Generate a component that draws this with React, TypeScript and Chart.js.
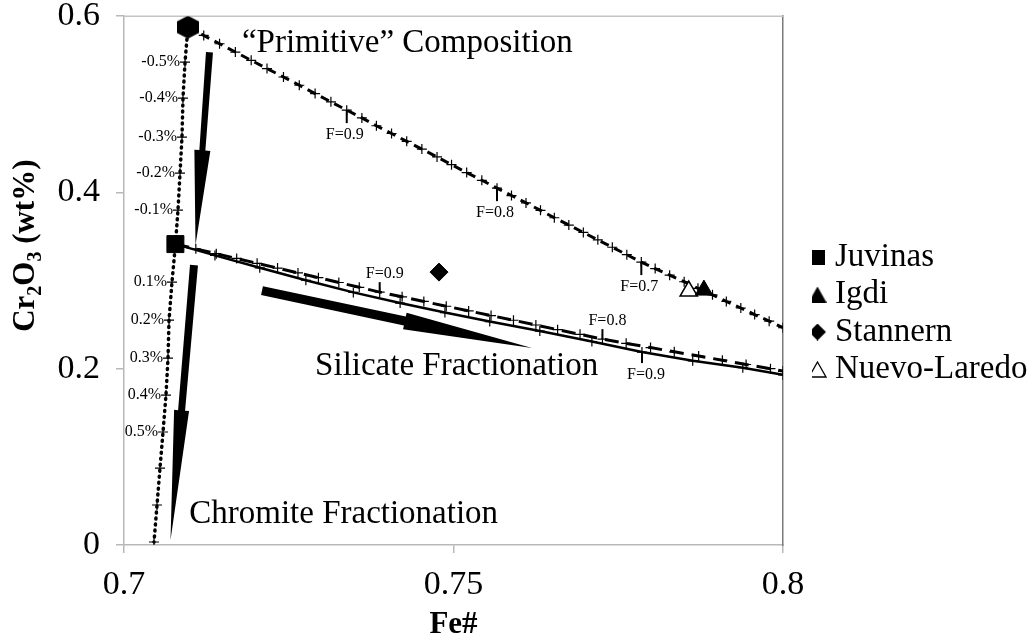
import React, { useEffect, useRef } from 'react';
import { Chart, registerables } from 'chart.js';

Chart.register(...registerables);

const FONT = "'Liberation Serif', 'Times New Roman', Times, serif";

// ---- axes ----
const xTickValues = [0.7, 0.75, 0.8];
const xTickLabels = ['0.7', '0.75', '0.8'];
const yTickValues = [0, 0.2, 0.4, 0.6];
const yTickLabels = ['0', '0.2', '0.4', '0.6'];
const xTitle = 'Fe#';
const yTitleParts = ['Cr', '2', 'O', '3', ' (wt%)'];
const yTitleIsSub = [false, true, false, true, false];

// ---- meteorite samples ----
const sampleNames = ['Juvinas', 'Igdi', 'Stannern', 'Nuevo-Laredo'];
const juvinasFe = [0.7078];
const juvinasCr = [0.3414];
const igdiFe = [0.7880];
const igdiCr = [0.2892];
const stannernFe = [0.7478];
const stannernCr = [0.3096];
const nuevoLaredoFe = [0.7857];
const nuevoLaredoCr = [0.2881];

// ---- "primitive" composition ----
const primitiveFe = [0.7097];
const primitiveCr = [0.5875];

// ---- silicate fractionation of the primitive melt (marks every F = 0.01) ----
const primSilFe = [
  0.7097, 0.7121, 0.7145, 0.7169, 0.7193, 0.7217, 0.7242, 0.7266, 0.7290, 0.7314, 0.7338,
  0.7361, 0.7383, 0.7406, 0.7429, 0.7452, 0.7475, 0.7497, 0.7520, 0.7543, 0.7566,
  0.7588, 0.7610, 0.7632, 0.7653, 0.7675, 0.7697, 0.7719, 0.7741, 0.7763, 0.7785,
  0.7806, 0.7828, 0.7850, 0.7871, 0.7893, 0.7914, 0.7936, 0.7957, 0.7979, 0.8000,
];
const primSilCr = [
  0.5875, 0.5781, 0.5687, 0.5593, 0.5499, 0.5405, 0.5310, 0.5216, 0.5122, 0.5028, 0.4934,
  0.4846, 0.4757, 0.4669, 0.4580, 0.4492, 0.4403, 0.4315, 0.4226, 0.4138, 0.4049,
  0.3965, 0.3881, 0.3797, 0.3713, 0.3630, 0.3546, 0.3462, 0.3378, 0.3294, 0.3210,
  0.3136, 0.3061, 0.2987, 0.2912, 0.2838, 0.2763, 0.2689, 0.2614, 0.2540, 0.2465,
];
const primSilMarkIdx = [10, 20, 30];
const primSilMarkText = ['F=0.9', 'F=0.8', 'F=0.7'];

// ---- silicate fractionation from Juvinas, dashed model ----
const juvDashFe = [
  0.7078, 0.7109, 0.7140, 0.7171, 0.7202, 0.7233, 0.7264, 0.7295, 0.7326, 0.7357, 0.7388,
  0.7422, 0.7455, 0.7489, 0.7523, 0.7557, 0.7591, 0.7625, 0.7658, 0.7692, 0.7726,
  0.7762, 0.7799, 0.7835, 0.7872, 0.7908, 0.7944, 0.7981, 0.8000,
];
const juvDashCr = [
  0.3414, 0.3360, 0.3305, 0.3251, 0.3196, 0.3142, 0.3087, 0.3033, 0.2978, 0.2924, 0.2869,
  0.2816, 0.2763, 0.2709, 0.2656, 0.2603, 0.2550, 0.2496, 0.2443, 0.2390, 0.2336,
  0.2288, 0.2240, 0.2192, 0.2144, 0.2096, 0.2048, 0.2000, 0.1973,
];
const juvDashMarkIdx = [10, 20];
const juvDashMarkText = ['F=0.9', 'F=0.8'];

// ---- silicate fractionation from Juvinas, solid model ----
const juvSolidFe = [0.7078, 0.7138, 0.7206, 0.7276, 0.7348, 0.7419, 0.7487, 0.7555, 0.7631, 0.7710, 0.7786, 0.7863, 0.7939, 0.8000];
const juvSolidCr = [0.3414, 0.3286, 0.3145, 0.3004, 0.2866, 0.2745, 0.2637, 0.2535, 0.2427, 0.2309, 0.2189, 0.2090, 0.2012, 0.1930];
const juvSolidMarkIdx = [10];
const juvSolidMarkText = ['F=0.9'];

// ---- chromite fractionation (dotted) ----
const chromFe = [0.7097, 0.70926, 0.70895, 0.70880, 0.70850, 0.70819, 0.70781, 0.70728, 0.70683, 0.70668, 0.70637, 0.70592, 0.70546, 0.70501, 0.70455];
const chromCr = [0.5875, 0.5478, 0.5070, 0.4627, 0.4219, 0.3799, 0.3414, 0.2983, 0.2552, 0.2121, 0.1701, 0.1282, 0.0873, 0.0454, 0.0034];
const chromLabels = ['', '-0.5%', '-0.4%', '-0.3%', '-0.2%', '-0.1%', '', '0.1%', '0.2%', '0.3%', '0.4%', '0.5%', '', '', ''];

// ---- annotations ----
const noteTexts = ['\u201CPrimitive\u201D Composition', 'Silicate Fractionation', 'Chromite Fractionation'];
const noteFe = [0.7179, 0.7290, 0.7099];
const noteCr = [0.5591, 0.1928, 0.0250];
const arrowFromFe = [0.71297, 0.71062, 0.72094];
const arrowFromCr = [0.5592, 0.3176, 0.2887];
const arrowToFe = [0.71085, 0.70706, 0.76191];
const arrowToCr = [0.3403, 0.0057, 0.2234];

// styles (px)
const ARROW_STYLE = [
  { tail: 7, neck: 6, head: 16, headLen: 95 },
  { tail: 8, neck: 7, head: 15, headLen: 130 },
  { tail: 9, neck: 9, head: 17, headLen: 130 },
];

const pts = (xs: number[], ys: number[]) => xs.map((x, i) => ({ x, y: ys[i] }));

function makeIcon(w: number, h: number, draw: (g: CanvasRenderingContext2D) => void): HTMLCanvasElement {
  const c = document.createElement('canvas');
  c.width = w;
  c.height = h;
  const g = c.getContext('2d')!;
  g.fillStyle = '#000';
  g.strokeStyle = '#000';
  draw(g);
  return c;
}

function makeHexagon(w: number, h: number) {
  return makeIcon(w, h, (g) => {
    g.beginPath();
    g.moveTo(w / 2, 0);
    g.lineTo(w, h * 0.25);
    g.lineTo(w, h * 0.75);
    g.lineTo(w / 2, h);
    g.lineTo(0, h * 0.75);
    g.lineTo(0, h * 0.25);
    g.closePath();
    g.fill();
  });
}

function makeLegendIcons() {
  const square = makeIcon(15, 15, (g) => g.fillRect(0, 0, 15, 15));
  const tri = makeIcon(18, 16, (g) => {
    g.beginPath(); g.moveTo(9, 0); g.lineTo(18, 16); g.lineTo(0, 16); g.closePath(); g.fill();
  });
  const diamond = makeIcon(17, 17, (g) => {
    g.beginPath(); g.moveTo(8.5, 0); g.lineTo(17, 8.5); g.lineTo(8.5, 17); g.lineTo(0, 8.5); g.closePath(); g.fill();
  });
  const openTri = makeIcon(19, 17, (g) => {
    g.lineWidth = 1.3;
    g.fillStyle = '#fff';
    g.beginPath(); g.moveTo(9.5, 1); g.lineTo(18, 16); g.lineTo(1, 16); g.closePath(); g.fill(); g.stroke();
  });
  return [square, tri, diamond, openTri];
}

function drawArrow(ctx: CanvasRenderingContext2D, x1: number, y1: number, x2: number, y2: number, s: any) {
  const dx = x2 - x1, dy = y2 - y1;
  const L = Math.hypot(dx, dy);
  const ux = dx / L, uy = dy / L;
  const nx = -uy, ny = ux;
  const bx = x2 - ux * s.headLen, by = y2 - uy * s.headLen;
  ctx.beginPath();
  ctx.moveTo(x1 + (nx * s.tail) / 2, y1 + (ny * s.tail) / 2);
  ctx.lineTo(bx + (nx * s.neck) / 2, by + (ny * s.neck) / 2);
  ctx.lineTo(bx + (nx * s.head) / 2, by + (ny * s.head) / 2);
  ctx.lineTo(x2, y2);
  ctx.lineTo(bx - (nx * s.head) / 2, by - (ny * s.head) / 2);
  ctx.lineTo(bx - (nx * s.neck) / 2, by - (ny * s.neck) / 2);
  ctx.lineTo(x1 - (nx * s.tail) / 2, y1 - (ny * s.tail) / 2);
  ctx.closePath();
  ctx.fill();
}

const annotationPlugin = {
  id: 'vestaAnnotations',
  beforeDatasetsDraw(chart: any) {
    const { ctx, chartArea } = chart;
    const xs = chart.scales.x;
    const ys = chart.scales.y;
    const px = (v: number) => xs.getPixelForValue(v);
    const py = (v: number) => ys.getPixelForValue(v);
    ctx.save();
    // top frame line
    ctx.strokeStyle = '#c4c4c4';
    ctx.lineWidth = 1.5;
    ctx.beginPath();
    ctx.moveTo(chartArea.left, chartArea.top);
    ctx.lineTo(chartArea.right, chartArea.top);
    ctx.stroke();

    // arrows
    ctx.fillStyle = '#000';
    for (let i = 0; i < arrowFromFe.length; i++) {
      drawArrow(ctx, px(arrowFromFe[i]), py(arrowFromCr[i]), px(arrowToFe[i]), py(arrowToCr[i]), ARROW_STYLE[i]);
    }

    // big notes
    ctx.font = `33px ${FONT}`;
    ctx.textAlign = 'left';
    ctx.textBaseline = 'alphabetic';
    for (let i = 0; i < noteTexts.length; i++) {
      ctx.fillText(noteTexts[i], px(noteFe[i]), py(noteCr[i]));
    }

    // F marks
    ctx.font = `16px ${FONT}`;
    ctx.textAlign = 'center';
    ctx.textBaseline = 'middle';
    ctx.strokeStyle = '#000';
    ctx.lineWidth = 2;
    const marks = [
      { fe: primSilFe, cr: primSilCr, idx: primSilMarkIdx, txt: primSilMarkText, dir: 1, len: 13, off: 25, dx: -2 },
      { fe: juvDashFe, cr: juvDashCr, idx: juvDashMarkIdx, txt: juvDashMarkText, dir: -1, len: 10, off: 18, dx: 5 },
      { fe: juvSolidFe, cr: juvSolidCr, idx: juvSolidMarkIdx, txt: juvSolidMarkText, dir: 1, len: 11, off: 23, dx: 4 },
    ];
    for (const m of marks) {
      m.idx.forEach((k, j) => {
        const X = px(m.fe[k]);
        const Y = py(m.cr[k]);
        ctx.beginPath();
        ctx.moveTo(X, Y);
        ctx.lineTo(X, Y + m.dir * m.len);
        ctx.stroke();
        ctx.fillText(m.txt[j], X + m.dx, Y + m.dir * m.off);
      });
    }

    // chromite percentage labels
    ctx.textAlign = 'right';
    chromLabels.forEach((t, i) => {
      if (!t) return;
      ctx.fillText(t, px(chromFe[i]) - 5, py(chromCr[i]));
    });
    ctx.restore();
  },
  afterDraw(chart: any) {
    const { ctx, chartArea } = chart;
    ctx.save();
    const big = `bold 31px ${FONT}`;
    const small = `bold 20px ${FONT}`;
    let total = 0;
    const widths = yTitleParts.map((t, i) => {
      ctx.font = yTitleIsSub[i] ? small : big;
      const w = ctx.measureText(t).width;
      total += w;
      return w;
    });
    const cy = chartArea.top + 0.434 * (chartArea.bottom - chartArea.top);
    ctx.translate(34, cy);
    ctx.rotate(-Math.PI / 2);
    ctx.fillStyle = '#000';
    ctx.textAlign = 'left';
    ctx.textBaseline = 'alphabetic';
    let x = -total / 2;
    yTitleParts.forEach((t, i) => {
      ctx.font = yTitleIsSub[i] ? small : big;
      ctx.fillText(t, x, yTitleIsSub[i] ? 7 : 0);
      x += widths[i];
    });
    ctx.restore();
  },
};

export default function App() {
  const ref = useRef<HTMLCanvasElement | null>(null);
  useEffect(() => {
    if (!ref.current) return;
    const hex = makeHexagon(22, 23);
    const legendIcons = makeLegendIcons();
    const crossPts = { pointStyle: 'cross', pointBorderColor: '#000', pointBorderWidth: 1.2, pointRadius: 5 };
    const chart = new Chart(ref.current, {
      type: 'scatter',
      data: {
        datasets: [
          { label: sampleNames[0], data: pts(juvinasFe, juvinasCr), pointStyle: 'rect', pointRadius: 12, backgroundColor: '#000', borderColor: '#000', borderWidth: 1, order: 0 },
          { label: sampleNames[1], data: pts(igdiFe, igdiCr), pointStyle: 'triangle', pointRadius: 10, backgroundColor: '#000', borderColor: '#000', borderWidth: 1, order: 0 },
          { label: sampleNames[2], data: pts(stannernFe, stannernCr), pointStyle: 'rectRot', pointRadius: 9, backgroundColor: '#000', borderColor: '#000', borderWidth: 1, order: 0 },
          { label: sampleNames[3], data: pts(nuevoLaredoFe, nuevoLaredoCr), pointStyle: 'triangle', pointRadius: 10, backgroundColor: '#fff', borderColor: '#000', borderWidth: 1.5, order: 0 },
          { label: 'Primitive composition', data: pts(primitiveFe, primitiveCr), pointStyle: hex, pointRadius: 11, backgroundColor: '#000', borderColor: '#000', order: 0 },
          { label: 'Primitive silicate fractionation', data: pts(primSilFe, primSilCr), showLine: true, borderColor: '#000', borderWidth: 3, borderDash: [9, 6], ...crossPts, order: 1 },
          { label: 'Juvinas silicate fractionation (dashed)', data: pts(juvDashFe, juvDashCr), showLine: true, borderColor: '#000', borderWidth: 3, borderDash: [14, 8], ...crossPts, order: 1 },
          { label: 'Juvinas silicate fractionation (solid)', data: pts(juvSolidFe, juvSolidCr), showLine: true, borderColor: '#000', borderWidth: 2.5, ...crossPts, order: 1 },
          { label: 'Chromite fractionation', data: pts(chromFe, chromCr), showLine: true, borderColor: '#000', borderWidth: 3.5, borderDash: [1, 5], borderCapStyle: 'round', ...crossPts, pointRadius: chromLabels.map((t, i) => (i === 0 || i === 6 ? 0 : 5)), order: 1 },
        ] as any,
      },
      options: {
        responsive: false,
        animation: false,
        events: [],
        layout: { padding: { top: 0, right: 0, bottom: 0, left: 0 } },
        plugins: {
          tooltip: { enabled: false },
          legend: {
            position: 'right',
            align: 'start',
            maxWidth: 222,
            title: { display: true, text: '', padding: { top: 226, bottom: 0 }, font: { size: 10, lineHeight: 1 } },
            labels: {
              usePointStyle: true,
              boxWidth: 2,
              boxHeight: 15,
              padding: 4.5,
              color: '#000',
              font: { family: FONT, size: 33, lineHeight: 1 },
              generateLabels: (ch: any) => {
                const items = (Chart as any).defaults.plugins.legend.labels.generateLabels(ch);
                return items
                  .filter((it: any) => sampleNames.includes(it.text))
                  .map((it: any) => ({ ...it, pointStyle: legendIcons[sampleNames.indexOf(it.text)] }));
              },
            },
          },
        },
        scales: {
          x: {
            type: 'linear',
            position: 'bottom',
            min: 0.7,
            max: 0.8,
            afterBuildTicks: (s: any) => { s.ticks = xTickValues.map((v) => ({ value: v })); },
            afterFit: (s: any) => { s.height = 95; },
            ticks: {
              autoSkip: false,
              maxRotation: 0,
              padding: 15,
              color: '#000',
              font: { family: FONT, size: 34, lineHeight: 1 },
              callback: (v: any) => { const i = xTickValues.findIndex((t) => Math.abs(t - v) < 1e-9); return i >= 0 ? xTickLabels[i] : ''; },
            },
            grid: { display: true, drawOnChartArea: false, drawTicks: true, tickLength: 8, color: '#b8b8b8', lineWidth: 1.5 },
            border: { display: true, color: '#b8b8b8', width: 1.5 },
            title: { display: true, text: xTitle, color: '#000', font: { family: FONT, size: 31, weight: 'bold', lineHeight: 1 }, padding: { top: 0, bottom: 0 } },
          },
          y: {
            type: 'linear',
            position: 'left',
            min: 0,
            max: 0.6,
            afterBuildTicks: (s: any) => { s.ticks = yTickValues.map((v) => ({ value: v })); },
            afterFit: (s: any) => { s.width = 124; },
            ticks: {
              autoSkip: false,
              padding: 16,
              color: '#000',
              font: { family: FONT, size: 34, lineHeight: 0.01 },
              callback: (v: any) => { const i = yTickValues.findIndex((t) => Math.abs(t - v) < 1e-9); return i >= 0 ? yTickLabels[i] : ''; },
            },
            grid: { display: true, drawOnChartArea: false, drawTicks: true, tickLength: 8, color: '#b8b8b8', lineWidth: 1.5 },
            border: { display: true, color: '#b8b8b8', width: 1.5 },
            title: { display: false },
          },
          yR: {
            type: 'linear',
            position: 'right',
            min: 0,
            max: 1,
            afterFit: (s: any) => { s.width = 29; },
            ticks: { display: false },
            grid: { display: false, drawTicks: false },
            border: { display: true, color: '#7a7a7a', width: 1.5 },
          },
        },
      } as any,
      plugins: [annotationPlugin],
    });
    return () => chart.destroy();
  }, []);

  return (
    <div style={{ position: 'absolute', left: 0, top: 0, width: 1034, height: 640, background: '#fff' }}>
      <canvas ref={ref} width={1034} height={640} style={{ display: 'block' }} />
    </div>
  );
}
